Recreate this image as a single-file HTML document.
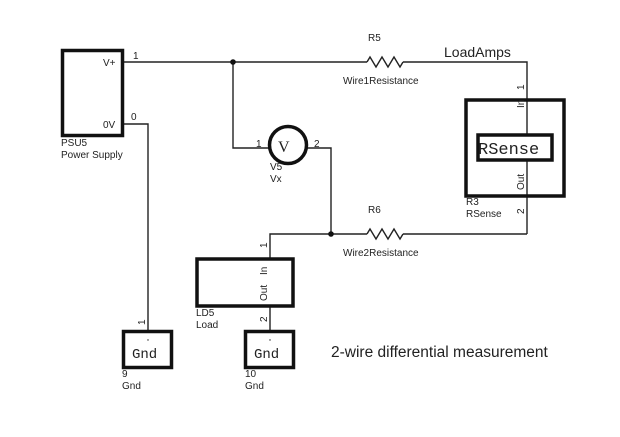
<!DOCTYPE html>
<html><head><style>body{margin:0;background:#fff}svg{display:block}.m{font-family:"Liberation Mono","DejaVu Sans Mono",monospace;font-weight:normal}.s{font-family:"Liberation Serif",serif}</style></head>
<body>
<svg width="620" height="437" viewBox="0 0 620 437" xmlns="http://www.w3.org/2000/svg" font-family="Liberation Sans, sans-serif" fill="none" stroke="#222">
<rect width="620" height="437" fill="#fff" stroke="none"/>
<g stroke-width="1.4">
<polyline points="123,62 367,62"/>
<polyline points="367,62 370,57 376,67 382,57 388,67 394,57 400,67 403,62"/>
<polyline points="403,62 527,62 527,99"/>
<line x1="527" y1="99" x2="527" y2="134"/>
<line x1="527" y1="160" x2="527" y2="234"/>
<polyline points="123,124 148,124 148,330"/>
<polyline points="233,62 233,148 269,148"/>
<polyline points="307,148 331,148 331,234"/>
<polyline points="270,258 270,234 367,234"/>
<polyline points="367,234 370,229 376,239 382,229 388,239 394,229 400,239 403,234"/>
<polyline points="403,234 527,234"/>
<line x1="270" y1="307" x2="270" y2="330"/>
</g>
<circle cx="233" cy="62" r="2.8" fill="#111" stroke="none"/>
<circle cx="331" cy="234" r="2.8" fill="#111" stroke="none"/>
<g stroke="#111" stroke-width="3.5">
<rect x="62.5" y="50.5" width="60" height="85"/>
<rect x="466" y="100" width="98" height="96"/>
<rect x="478" y="135" width="74" height="25" fill="#fff"/>
<rect x="197" y="259" width="96" height="47"/>
<rect x="123.5" y="331.5" width="48" height="36"/>
<rect x="245.5" y="331.5" width="48" height="36"/>
</g>
<circle cx="288" cy="145" r="18.5" stroke="#111" stroke-width="3.5" fill="#fff"/>
<g fill="#222" stroke="none" font-size="10">
<text x="103" y="66">V+</text>
<text x="103" y="128">0V</text>
<text x="133" y="59">1</text>
<text x="131" y="120">0</text>
<text x="61" y="146">PSU5</text>
<text x="61" y="158">Power Supply</text>
<text x="256" y="147">1</text>
<text x="314" y="147">2</text>
<text x="270" y="170">V5</text>
<text x="270" y="182">Vx</text>
<text x="368" y="41">R5</text>
<text x="343" y="84">Wire1Resistance</text>
<text x="368" y="213">R6</text>
<text x="343" y="256">Wire2Resistance</text>
<text x="466" y="205">R3</text>
<text x="466" y="217">RSense</text>
<text x="196" y="316">LD5</text>
<text x="196" y="328">Load</text>
<text x="122" y="377">9</text>
<text x="122" y="389">Gnd</text>
<text x="245" y="377">10</text>
<text x="245" y="389">Gnd</text>
<text transform="translate(524,90) rotate(-90)">1</text>
<text transform="translate(524,108) rotate(-90)">In</text>
<text transform="translate(524,190) rotate(-90)">Out</text>
<text transform="translate(524,214) rotate(-90)">2</text>
<text transform="translate(267,248) rotate(-90)">1</text>
<text transform="translate(267,275) rotate(-90)">In</text>
<text transform="translate(267,301) rotate(-90)">Out</text>
<text transform="translate(267,322) rotate(-90)">2</text>
<text transform="translate(145,325) rotate(-90)">1</text>
<text x="444" y="57" font-size="14">LoadAmps</text>
<text x="331" y="357" font-size="15.5">2-wire differential measurement</text>
<text x="278" y="152" class="s" font-size="16">V</text>
<text x="478" y="154" class="m" font-size="17">RSense</text>
<text x="132" y="358" class="m" font-size="14">Gnd</text>
<text x="254" y="358" class="m" font-size="14">Gnd</text>
<circle cx="148" cy="340" r="0.7"/>
<circle cx="270" cy="340" r="0.7"/>
</g>
</svg>
</body></html>
